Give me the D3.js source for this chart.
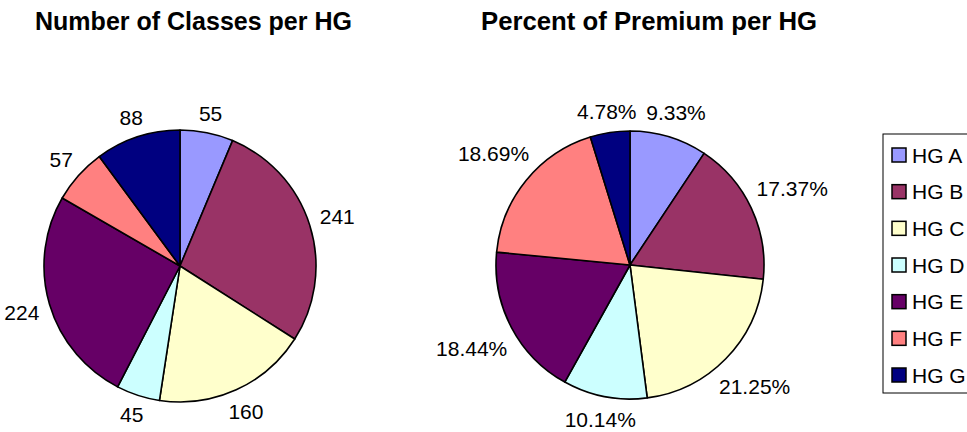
<!DOCTYPE html>
<html>
<head>
<meta charset="utf-8">
<script src="https://cdn.jsdelivr.net/npm/d3@7"></script>
<style>
  body { margin: 0; background: #fff; }
  text { font-family: Arial, "Liberation Sans", sans-serif; fill: #000; }
</style>
</head>
<body>
<div id="canvas"></div>
<script>
// page size
const width = 967;
const height = 432;

// data
const groups = ["HG A", "HG B", "HG C", "HG D", "HG E", "HG F", "HG G"];
const classCounts = [55, 241, 160, 45, 224, 57, 88];
const premiumPct = [9.33, 17.37, 21.25, 10.14, 18.44, 18.69, 4.78];
const colors = ["#9999FF", "#993366", "#FFFFCC", "#CCFFFF", "#660066", "#FF8080", "#000080"];

const svg = d3.select("#canvas")
    .append("svg")
    .attr("width", width)
    .attr("height", height);

svg.append("rect")
    .attr("width", width)
    .attr("height", height)
    .attr("fill", "#ffffff");

const color = d3.scaleOrdinal().domain(groups).range(colors);

// drawPie : draws one pie with its outside labels
function drawPie(values, cx, cy, r, fmt, title, titleX, titleW) {
    let data = values.map((v, i) => ({ name: groups[i], value: v }));
    let pie = d3.pie().sort(null).value(d => d.value);
    let arc = d3.arc().innerRadius(0).outerRadius(r);
    let g = svg.append("g").attr("transform", `translate(${cx}, ${cy})`);

    g.selectAll("path")
        .data(pie(data))
        .enter()
        .append("path")
        .attr("d", arc)
        .attr("fill", d => color(d.data.name))
        .attr("stroke", "#000")
        .attr("stroke-width", 1.6)
        .attr("stroke-linejoin", "round");

    // labels sit just outside the rim, pushed out by half their box
    g.selectAll("text.lbl")
        .data(pie(data))
        .enter()
        .append("text")
        .attr("class", "lbl")
        .attr("font-size", "21px")
        .attr("text-anchor", "middle")
        .attr("dy", "0.36em")
        .text(d => fmt(d.data.value))
        .each(function(d) {
            let a = (d.startAngle + d.endAngle) / 2;
            let hw = this.getComputedTextLength() / 2;
            let dist = r + 10 + hw * Math.abs(Math.sin(a)) + 7 * Math.abs(Math.cos(a));
            d3.select(this)
                .attr("x", dist * Math.sin(a))
                .attr("y", -dist * Math.cos(a));
        });

    svg.append("text")
        .attr("x", titleX)
        .attr("y", 30)
        .attr("font-size", "26px")
        .attr("font-weight", "bold")
        .attr("textLength", titleW)
        .attr("lengthAdjust", "spacingAndGlyphs")
        .text(title);
}

drawPie(classCounts, 180, 266, 136, d => d, "Number of Classes per HG", 35, 317);
drawPie(premiumPct, 630, 265, 134, d => d.toFixed(2) + "%", "Percent of Premium per HG", 481, 336);

// legend, box runs off the right edge like the original
let legend = svg.append("g").attr("transform", "translate(883, 134)");
legend.append("rect")
    .attr("width", 120)
    .attr("height", 259)
    .attr("fill", "#fff")
    .attr("stroke", "#000")
    .attr("stroke-width", 1);

let ly = d3.scalePoint().domain(groups).range([21, 241]);

groups.forEach(function(name) {
    legend.append("rect")
        .attr("x", 9)
        .attr("y", ly(name) - 7)
        .attr("width", 14)
        .attr("height", 14)
        .attr("fill", color(name))
        .attr("stroke", "#000")
        .attr("stroke-width", 1.5);
    legend.append("text")
        .attr("x", 29)
        .attr("y", ly(name))
        .attr("dy", "0.36em")
        .attr("font-size", "21px")
        .text(name);
});
</script>
</body>
</html>
